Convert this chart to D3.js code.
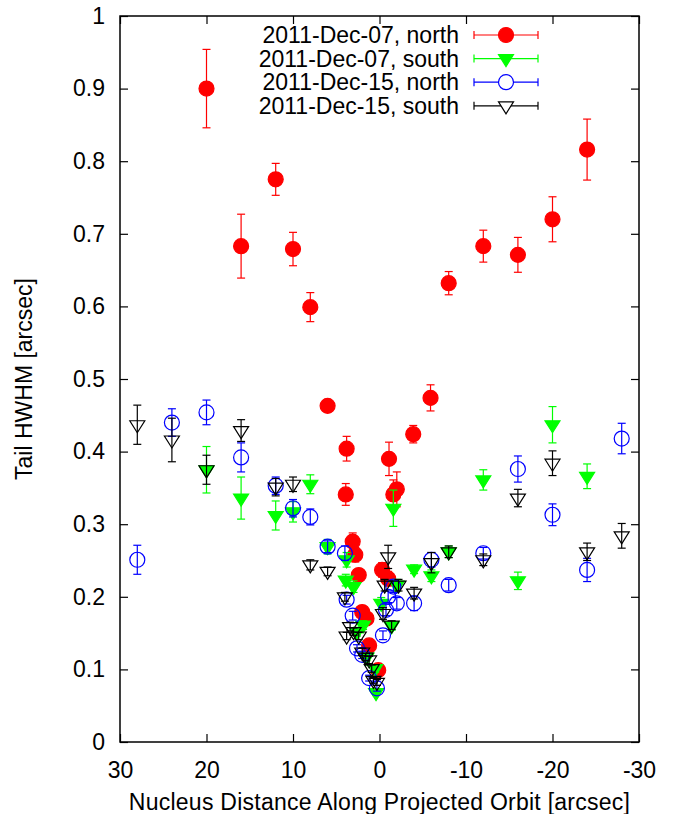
<!DOCTYPE html>
<html>
<head>
<meta charset="utf-8">
<script src="https://cdn.jsdelivr.net/npm/d3@7"></script>
<style>
  html, body { margin: 0; padding: 0; background: #fff; }
  svg text { font-family: "Liberation Sans", Arial, Helvetica, sans-serif; fill: #000; }
</style>
</head>
<body>
<svg id="chart" width="673" height="814"></svg>
<script>
// Tail half-width measurements: [distance along orbit (arcsec), HWHM (arcsec), error]
const dec07North = [
  [20, 0.900, 0.054], [16, 0.683, 0.044], [12, 0.775, 0.022], [10, 0.679, 0.023],
  [8, 0.599, 0.020], [6, 0.463, 0.008], [3.8, 0.404, 0.017], [3.9, 0.341, 0.015],
  [3.1, 0.276, 0.012], [2.8, 0.258, 0.010], [2.4, 0.230, 0.008], [2.0, 0.179, 0.008],
  [1.5, 0.170, 0.008], [1.2, 0.133, 0.006], [0.15, 0.099, 0.006], [-0.3, 0.237, 0.010],
  [-1.0, 0.225, 0.010], [-1.1, 0.390, 0.023], [-1.6, 0.341, 0.020], [-2.0, 0.348, 0.024],
  [-3.9, 0.424, 0.012], [-5.9, 0.474, 0.018], [-8, 0.632, 0.016], [-12, 0.683, 0.022],
  [-16, 0.671, 0.024], [-20, 0.720, 0.031], [-24, 0.816, 0.042]
];
const dec07South = [
  [20, 0.375, 0.032], [16, 0.336, 0.029], [12, 0.312, 0.020], [10, 0.317, 0.014],
  [8, 0.355, 0.013], [6, 0.269, 0.010], [3.8, 0.251, 0.010], [3.9, 0.223, 0.008],
  [3.0, 0.214, 0.008], [1.9, 0.161, 0.006], [2.6, 0.152, 0.006], [1.5, 0.117, 0.005],
  [0.5, 0.101, 0.005], [0.4, 0.068, 0.004], [-0.2, 0.191, 0.008], [-1.4, 0.160, 0.006],
  [-1.6, 0.322, 0.025], [-2.0, 0.216, 0.008], [-4, 0.238, 0.006], [-6, 0.229, 0.008],
  [-8, 0.262, 0.008], [-12, 0.361, 0.014], [-16, 0.222, 0.012], [-20, 0.437, 0.025],
  [-24, 0.366, 0.017]
];
const dec15North = [
  [28, 0.251, 0.020], [24, 0.440, 0.019], [20, 0.454, 0.017], [16, 0.392, 0.020],
  [12, 0.353, 0.012], [10, 0.322, 0.012], [8, 0.310, 0.011], [6, 0.269, 0.008],
  [4, 0.260, 0.010], [3.8, 0.196, 0.006], [3.1, 0.174, 0.006], [2.6, 0.129, 0.005],
  [2.0, 0.120, 0.005], [1.2, 0.088, 0.004], [0.3, 0.074, 0.004], [-0.4, 0.147, 0.006],
  [-0.75, 0.182, 0.008], [-1.0, 0.200, 0.008], [-1.6, 0.214, 0.008], [-2.0, 0.191, 0.008],
  [-4, 0.191, 0.010], [-6, 0.251, 0.010], [-8, 0.216, 0.008], [-12, 0.260, 0.008],
  [-16, 0.376, 0.018], [-20, 0.313, 0.015], [-24, 0.237, 0.016], [-28, 0.418, 0.021]
];
const dec15South = [
  [28, 0.437, 0.027], [24, 0.416, 0.030], [20, 0.375, 0.020], [16, 0.429, 0.015],
  [12, 0.351, 0.012], [10, 0.355, 0.010], [8, 0.244, 0.007], [6, 0.235, 0.006],
  [4, 0.200, 0.006], [3.4, 0.159, 0.006], [3.8, 0.146, 0.005], [3.0, 0.152, 0.005],
  [2.4, 0.146, 0.005], [2.0, 0.124, 0.005], [1.6, 0.117, 0.005], [1.2, 0.113, 0.005],
  [0.9, 0.101, 0.005], [0.7, 0.085, 0.004], [0.3, 0.082, 0.004], [-0.4, 0.177, 0.008],
  [-0.6, 0.216, 0.008], [-1.0, 0.255, 0.016], [-1.4, 0.161, 0.006], [-2.2, 0.216, 0.008],
  [-4, 0.205, 0.008], [-6, 0.247, 0.014], [-8, 0.262, 0.008], [-12, 0.251, 0.008],
  [-16, 0.336, 0.012], [-20, 0.384, 0.017], [-24, 0.262, 0.012], [-28, 0.284, 0.017]
];

const seriesNames = ["2011-Dec-07, north", "2011-Dec-07, south", "2011-Dec-15, north", "2011-Dec-15, south"];
const seriesColors = ["#ff0000", "#00ff00", "#0000ff", "#000000"];
const seriesMarkers = ["circleFilled", "triangleFilled", "circleOpen", "triangleOpen"];
const xTicks = [30, 20, 10, 0, -10, -20, -30];
const yTicks = [0, 0.1, 0.2, 0.3, 0.4, 0.5, 0.6, 0.7, 0.8, 0.9, 1];

const series = [dec07North, dec07South, dec15North, dec15South];

const svg = d3.select("#chart");
const margin = { left: 120, right: 34, top: 16, bottom: 72 };
const W = 673, H = 814;
const x = d3.scaleLinear().domain([30, -30]).range([margin.left, W - margin.right]);
const y = d3.scaleLinear().domain([0, 1]).range([H - margin.bottom, margin.top]);
const fontSize = 23;
const tickLen = 8;

// tick labels (plain hyphen for negatives) and mirrored inward ticks
const fmtX = d => String(d);
const fmtY = d => d3.format("~g")(d);
const xAxisB = d3.axisBottom(x).tickValues(xTicks).tickSize(-tickLen).tickPadding(20).tickFormat(fmtX);
const xAxisT = d3.axisTop(x).tickValues(xTicks).tickSize(-tickLen).tickFormat("");
const yAxisL = d3.axisLeft(y).tickValues(yTicks).tickSize(-tickLen).tickPadding(15).tickFormat(fmtY);
const yAxisR = d3.axisRight(y).tickValues(yTicks).tickSize(-tickLen).tickFormat("");

function styleAxis(g) {
  g.select(".domain").remove();
  g.selectAll(".tick line").attr("stroke", "#000").attr("stroke-width", 1.2);
  g.selectAll(".tick text").attr("font-size", fontSize).attr("fill", "#000")
    .style("font-family", '"Liberation Sans", Arial, Helvetica, sans-serif');
}
svg.append("g").attr("transform", `translate(0,${y(0)})`).call(xAxisB).call(styleAxis);
svg.append("g").attr("transform", `translate(0,${y(1)})`).call(xAxisT).call(styleAxis);
svg.append("g").attr("transform", `translate(${x(30)},0)`).call(yAxisL).call(styleAxis);
svg.append("g").attr("transform", `translate(${x(-30)},0)`).call(yAxisR).call(styleAxis);

// axis titles
svg.append("text")
  .attr("x", (x(30) + x(-30)) / 2).attr("y", 810)
  .attr("text-anchor", "middle").attr("font-size", fontSize)
  .attr("letter-spacing", 0.25)
  .text("Nucleus Distance Along Projected Orbit [arcsec]");
svg.append("text")
  .attr("transform", `translate(32,${(y(0) + y(1)) / 2}) rotate(-90)`)
  .attr("text-anchor", "middle").attr("font-size", fontSize)
  .text("Tail HWHM [arcsec]");

// marker shapes
function markerPath(type, cx, cy) {
  if (type.startsWith("circle")) {
    const r = 7.5;
    return `M${cx - r},${cy}a${r},${r} 0 1,0 ${2 * r},0a${r},${r} 0 1,0 ${-2 * r},0Z`;
  }
  const hw = 7.5, up = 4, down = 8;
  return `M${cx - hw},${cy - up}L${cx + hw},${cy - up}L${cx},${cy + down}Z`;
}

const plot = svg.append("g");
const cap = 4;
series.forEach((data, i) => {
  const color = seriesColors[i];
  const type = seriesMarkers[i];
  const filled = type.endsWith("Filled");
  const g = plot.append("g");
  data.forEach(([dx, dy, de]) => {
    const px = x(dx), y1 = y(dy + de), y2 = y(dy - de);
    g.append("line").attr("x1", px).attr("x2", px).attr("y1", y1).attr("y2", y2)
      .attr("stroke", color).attr("stroke-width", 1.2);
    g.append("line").attr("x1", px - cap).attr("x2", px + cap).attr("y1", y1).attr("y2", y1)
      .attr("stroke", color).attr("stroke-width", 1.2);
    g.append("line").attr("x1", px - cap).attr("x2", px + cap).attr("y1", y2).attr("y2", y2)
      .attr("stroke", color).attr("stroke-width", 1.2);
  });
  data.forEach(([dx, dy]) => {
    g.append("path").attr("d", markerPath(type, x(dx), y(dy)))
      .attr("fill", filled ? color : "none")
      .attr("stroke", color).attr("stroke-width", 1.2);
  });
});

// legend
const legRight = 459, legY0 = 35, legStep = 23.6;
const lx1 = 474, lx2 = 538, lxm = 506;
seriesNames.forEach((name, i) => {
  const ly = legY0 + i * legStep;
  const color = seriesColors[i];
  const type = seriesMarkers[i];
  svg.append("text").attr("x", legRight).attr("y", ly).attr("dy", "0.35em")
    .attr("text-anchor", "end").attr("font-size", fontSize).text(name);
  svg.append("line").attr("x1", lx1).attr("x2", lx2).attr("y1", ly).attr("y2", ly)
    .attr("stroke", color).attr("stroke-width", 1.2);
  [lx1, lx2].forEach(ex => svg.append("line").attr("x1", ex).attr("x2", ex)
    .attr("y1", ly - 4).attr("y2", ly + 4).attr("stroke", color).attr("stroke-width", 1.2));
  svg.append("path").attr("d", markerPath(type, lxm, ly))
    .attr("fill", type.endsWith("Filled") ? color : "#fff")
    .attr("stroke", color).attr("stroke-width", 1.2);
});

// frame
svg.append("rect").attr("x", x(30)).attr("y", y(1))
  .attr("width", x(-30) - x(30)).attr("height", y(0) - y(1))
  .attr("fill", "none").attr("stroke", "#000").attr("stroke-width", 1.5);
</script>
</body>
</html>
